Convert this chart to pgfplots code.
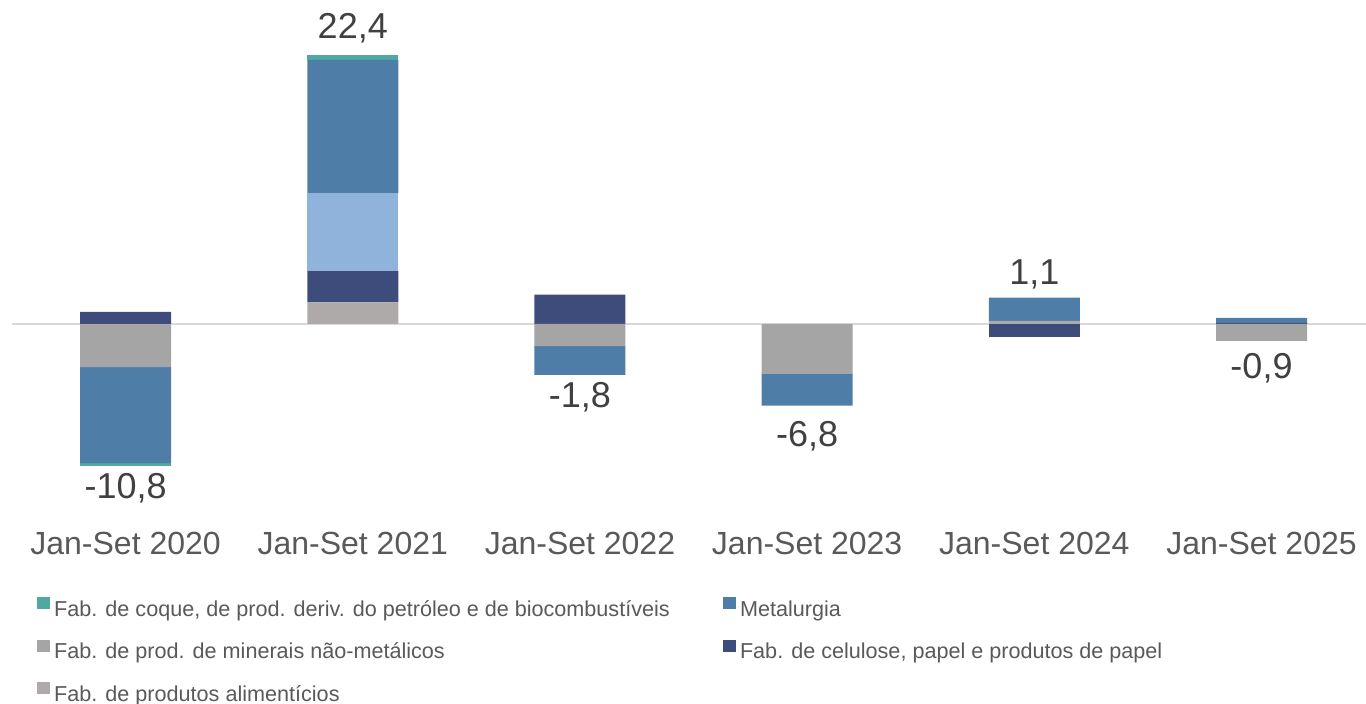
\documentclass[border=0pt]{standalone}
\usepackage{fontspec}
\setmainfont{Liberation Sans}
\usepackage{pgfplots}
\pgfplotsset{compat=1.18}
\definecolor{coque}{HTML}{4FA9A1}
\definecolor{metal}{HTML}{4E7DA8}
\definecolor{miner}{HTML}{A5A5A5}
\definecolor{celul}{HTML}{3E4C7B}
\definecolor{alim}{HTML}{AEAAAA}
\definecolor{lblue}{HTML}{8FB3DA}
\definecolor{ticktext}{HTML}{595959}
\definecolor{labtext}{HTML}{404040}
\definecolor{zeroline}{HTML}{D9D9D9}
\pgfplotsset{base/.style={scale only axis, width=677pt, height=247.8pt,
  xmin=-0.5, xmax=5.46, ymin=-16, ymax=25.3, at={(6pt,94pt)}, anchor=south west,
  bar width=45.5pt}}
\begin{document}
\begin{tikzpicture}
\useasboundingbox (0,0) rectangle (683pt,352pt);
% positive parts
\begin{axis}[base, ybar stacked,
  axis line style={draw=none}, tick style={draw=none}, ytick=\empty,
  xtick={0,...,5},
  xticklabels={Jan-Set 2020,Jan-Set 2021,Jan-Set 2022,Jan-Set 2023,Jan-Set 2024,Jan-Set 2025},
  xticklabel style={font=\fontsize{16}{19}\selectfont, text=ticktext, yshift=-4.8pt},
  extra y ticks={0}, extra y tick labels={},
  extra y tick style={grid=major, major grid style={draw=zeroline, line width=1pt}},
  legend columns=2, legend cell align=left,
  legend style={draw=none, fill=none, at={(rel axis cs:0.0185,-0.157)}, anchor=north west,
    font=\fontsize{10.8}{13}\selectfont, text=ticktext, inner sep=0pt, row sep=6.6pt,
    /tikz/every even column/.append style={column sep=0pt}},
  ]
\addplot[fill=alim, draw=none, forget plot] coordinates {(0,0) (1,1.8) (2,0) (3,0) (4,0.25) (5,0)};
\addplot[fill=celul, draw=none, forget plot] coordinates {(0,1.0) (1,2.6) (2,2.45) (3,0) (4,0) (5,0.1)};
\addplot[fill=lblue, draw=none, forget plot] coordinates {(0,0) (1,6.5) (2,0) (3,0) (4,0) (5,0)};
\addplot[fill=metal, draw=none, forget plot] coordinates {(0,0) (1,11.1) (2,0) (3,0) (4,1.95) (5,0.4)};
\addplot[fill=coque, draw=none, forget plot] coordinates {(0,0) (1,0.4) (2,0) (3,0) (4,0) (5,0)};
\addlegendimage{legend image code/.code={\fill[coque] (0pt,0pt) rectangle (6pt,5.5pt);}}
\addlegendentry{\makebox[332.5pt][l]{Fab. de coque, de prod. deriv. do petróleo e de biocombustíveis\strut}}
\addlegendimage{legend image code/.code={\fill[metal] (0pt,0pt) rectangle (6pt,5.5pt);}}
\addlegendentry{Metalurgia\strut}
\addlegendimage{legend image code/.code={\fill[miner] (0pt,0pt) rectangle (6pt,5.5pt);}}
\addlegendentry{\makebox[332.5pt][l]{Fab. de prod. de minerais não-metálicos\strut}}
\addlegendimage{legend image code/.code={\fill[celul] (0pt,0pt) rectangle (6pt,5.5pt);}}
\addlegendentry{Fab. de celulose, papel e produtos de papel\strut}
\addlegendimage{legend image code/.code={\fill[alim] (0pt,0pt) rectangle (6pt,5.5pt);}}
\addlegendentry{\makebox[332.5pt][l]{Fab. de produtos alimentícios\strut}}
\end{axis}
% negative parts
\begin{axis}[base, ybar stacked, hide axis]
\addplot[fill=alim, draw=none] coordinates {(0,-0.1) (1,0) (2,0) (3,0) (4,0) (5,0)};
\addplot[fill=celul, draw=none] coordinates {(0,0) (1,0) (2,0) (3,0) (4,-1.1) (5,0)};
\addplot[fill=miner, draw=none] coordinates {(0,-3.5) (1,0) (2,-1.85) (3,-4.15) (4,0) (5,-1.4)};
\addplot[fill=metal, draw=none] coordinates {(0,-8.0) (1,0) (2,-2.4) (3,-2.65) (4,0) (5,0)};
\addplot[fill=coque, draw=none] coordinates {(0,-0.25) (1,0) (2,0) (3,0) (4,0) (5,0)};
\end{axis}
% total labels (placed at the baseline of each label)
\begin{axis}[base, hide axis]
\addplot[draw=none, mark=none, nodes near coords, point meta=explicit symbolic,
  nodes near coords style={anchor=base, font=\fontsize{18}{21}\selectfont, text=labtext}]
  coordinates {(0,-14.58)[-10,8] (1,23.75)[22,4] (2,-7.0)[-1,8] (3,-10.25)[-6,8] (4,3.25)[1,1] (5,-4.58)[-0,9]};
\end{axis}
\end{tikzpicture}
\end{document}
